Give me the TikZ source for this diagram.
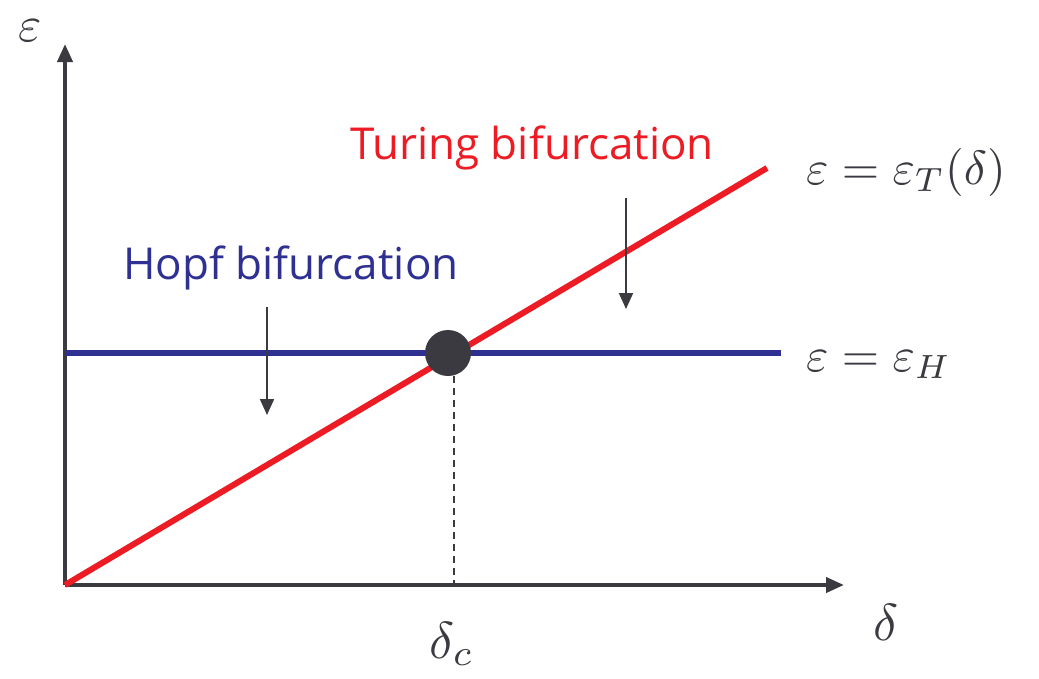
\documentclass[tikz,border=0pt]{standalone}
\usepackage{graphicx}
\usepackage{fontspec}
\newfontfamily\labfont{Open Sans}
\usetikzlibrary{arrows.meta}
\definecolor{axisgray}{HTML}{3A3A40}
\definecolor{turred}{HTML}{ED1C24}
\definecolor{hopfblue}{HTML}{2E3192}
\tikzset{
  axisline/.style={draw=axisgray, line width=4pt, -{Triangle[length=18pt,width=15pt]}},
  downarrow/.style={draw=axisgray, line width=2pt, -{Triangle[length=16pt,width=14pt]}},
  mathlab/.style={inner sep=0pt, text=axisgray},
  wordlab/.style={inner sep=0pt, font=\labfont\fontsize{44}{48}\selectfont}
}
\begin{document}
\begin{tikzpicture}[x=1pt,y=-1pt]
\useasboundingbox (0,0) rectangle (1039,678);
\coordinate (O) at (65,585);
\coordinate (ytip) at (65,44);
\coordinate (xtip) at (844,585);
\coordinate (rend) at (767,168);
\coordinate (bstart) at (65,353);
\coordinate (bend) at (781,353);
\coordinate (dfoot) at (454,585);
\draw[axisline] (O) -- (ytip);
\draw[axisline] (O) -- (xtip);
\draw[hopfblue, line width=6pt] (bstart) -- (bend);
\draw[turred, line width=6pt] (O) -- (rend);
\node[circle, fill=axisgray, minimum size=46pt, inner sep=0pt] (dot) at (448,353) {};
\draw[axisgray, line width=1.5pt, dash pattern=on 7pt off 5pt] (dot.south -| dfoot) -- (dfoot);
\coordinate (ta0) at (626,198);
\coordinate (ta1) at (626,309);
\coordinate (ha0) at (267,307);
\coordinate (ha1) at (267,415);
\draw[downarrow] (ta0) -- (ta1);
\draw[downarrow] (ha0) -- (ha1);
\node[mathlab] (eps) at (30,31) {\scalebox{5}{$\varepsilon$}};
\node[mathlab] (del) at (886,622) {\scalebox{5.2}{$\delta$}};
\node[mathlab, anchor=base] (delc) at (452,658) {\scalebox{5.2}{$\delta_c$}};
\node[mathlab, anchor=base west] (epsT) at (806,184) {\scalebox{4.8}{$\varepsilon=\varepsilon_T(\delta)$}};
\node[mathlab, anchor=base west] (epsH) at (806,371) {\scalebox{4.8}{$\varepsilon=\varepsilon_H$}};
\node[wordlab, text=turred] (tur) at (532,148) {Turing bifurcation};
\node[wordlab, text=hopfblue] (hopf) at (291,268) {Hopf bifurcation};
\end{tikzpicture}
\end{document}
